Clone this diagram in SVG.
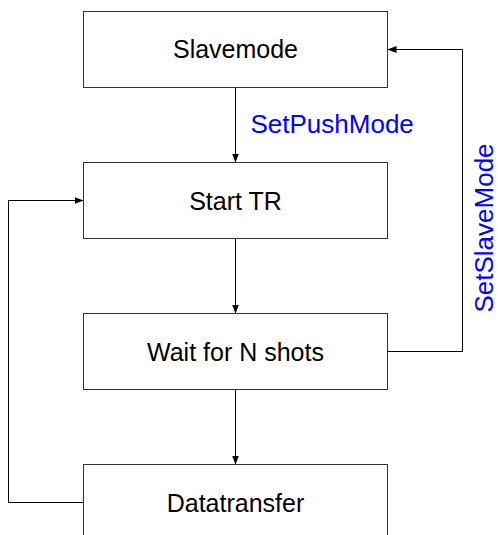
<svg xmlns="http://www.w3.org/2000/svg" width="498" height="535" viewBox="0 0 498 535">
  <style>
    .box { fill: #ffffff; stroke: #333333; stroke-width: 1; }
    .label { font-family: "Liberation Sans", Arial, sans-serif; font-size: 25px; fill: #000000; text-anchor: middle; }
    .edge-label { font-family: "Liberation Sans", Arial, sans-serif; font-size: 26px; fill: #0000ff; }
    .edge { fill: none; stroke: #000000; stroke-width: 1; }
  </style>
  <defs>
    <marker id="arrow" markerUnits="userSpaceOnUse" markerWidth="9" markerHeight="7" refX="9" refY="3.5" orient="auto">
      <path d="M0,0 L9,3.5 L0,7 z" fill="#000000"/>
    </marker>
  </defs>

  <rect width="498" height="535" fill="#ffffff"/>

  <g id="connectors">
    <path class="edge" d="M235.5,87.5 V162.5" marker-end="url(#arrow)"/>
    <path class="edge" d="M235.5,238.5 V313.5" marker-end="url(#arrow)"/>
    <path class="edge" d="M235.5,389.5 V464.5" marker-end="url(#arrow)"/>
    <path class="edge" d="M387.5,351.5 H462.5 V49.5 H387.5" marker-end="url(#arrow)"/>
    <path class="edge" d="M83.5,502.5 H8.5 V200.5 H83.5" marker-end="url(#arrow)"/>
    <text class="edge-label" x="250.5" y="133">SetPushMode</text>
    <text class="edge-label" transform="translate(492.5,228) rotate(-90)" text-anchor="middle">SetSlaveMode</text>
  </g>

  <g id="slavemode">
    <rect class="box" x="83.5" y="11.5" width="304" height="76"/>
    <text class="label" x="235.5" y="58">Slavemode</text>
  </g>

  <g id="start-tr">
    <rect class="box" x="83.5" y="162.5" width="304" height="76"/>
    <text class="label" x="235.5" y="209.5">Start TR</text>
  </g>

  <g id="wait-for-n-shots">
    <rect class="box" x="83.5" y="313.5" width="304" height="76"/>
    <text class="label" x="235.5" y="360.5">Wait for N shots</text>
  </g>

  <g id="datatransfer">
    <rect class="box" x="83.5" y="464.5" width="304" height="76"/>
    <text class="label" x="235.5" y="511.5">Datatransfer</text>
  </g>
</svg>
